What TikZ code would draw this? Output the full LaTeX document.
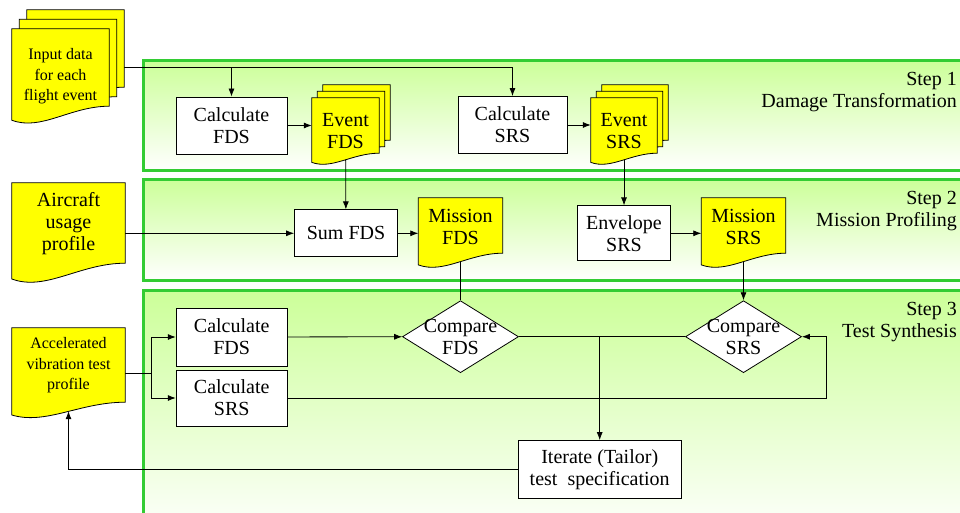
\documentclass[tikz,border=0pt]{standalone}
\usepackage{fontspec}
\setmainfont{Liberation Serif}
\usetikzlibrary{arrows.meta, calc, shapes.geometric}
\pgfdeclarelayer{bands}
\pgfdeclarelayer{links}
\pgfdeclarelayer{sheets}
\pgfsetlayers{bands,links,sheets,main}
\definecolor{bandgreen}{RGB}{204,255,153}
\definecolor{bandedge}{RGB}{51,204,51}
\definecolor{docyellow}{RGB}{255,255,0}

% Document sheet with a wavy bottom, drawn behind a node:
% #1 node, #2/#3 shift right/up, #4 drop of the right end, #5 wave depth
\newcommand\docsheet[5]{%
  \filldraw[sheet] ($(#1.north west)+(#2,-#3)$) -- ($(#1.north east)+(#2,-#3)$)
    -- ($(#1.south east)+(#2,{#4-#3})$)
    .. controls ($(#1.south west)!0.6!(#1.south east)+(#2,{#4-#3})$)
    and ($(#1.south west)!0.3!(#1.south east)+(#2,{#4+1.8*#5-#3})$)
    .. ($(#1.south west)+(#2,{#4+#5-#3})$) -- cycle;}

\begin{document}
\begin{tikzpicture}[x=1pt, y=-1pt,
    every node/.style={font=\fontsize{20}{22}\selectfont},
    small/.style={font=\fontsize{16}{20.5}\selectfont},
    proc/.style={draw, fill=white, line width=0.8pt, align=center, inner sep=0pt},
    docnode/.style={align=center, inner sep=0pt},
    decision/.style={diamond, draw, fill=white, line width=0.8pt, inner sep=0pt,
                     minimum width=116pt, minimum height=72pt},
    sheet/.style={draw, fill=docyellow, line width=0.8pt},
    band/.style={top color=bandgreen, bottom color=white, draw=bandedge, line width=3pt},
    steplabel/.style={anchor=north east, align=right, inner sep=0pt},
    link/.style={line width=0.8pt},
    >={Latex[length=8pt, width=6pt]}]
    \useasboundingbox (0,0) rectangle (960,513);

    % Bands:
    \begin{pgfonlayer}{bands}
    \begin{scope}
        \clip (0,0) rectangle (960,513);
        \shadedraw[band] (143,60.5) rectangle (980,170.5);
        \shadedraw[band] (143,179.5) rectangle (980,280.5);
        \shadedraw[band] (143,290.5) rectangle (980,540);
    \end{scope}
    \end{pgfonlayer}

    \node[steplabel] (step1) at (957,72.5) {Step 1\\Damage Transformation};
    \node[steplabel] (step2) at (957,191.5) {Step 2\\Mission Profiling};
    \node[steplabel] (step3) at (957,302.5) {Step 3\\Test Synthesis};

    % Step 1
    \node[docnode, small, minimum width=97pt, minimum height=95pt] (inp) at (60.5,76.5)
        {Input data\\for each\\flight event};
    \node[proc, minimum width=111pt, minimum height=57pt] (cfds1) at (231.5,125.5) {Calculate\\FDS};
    \node[docnode, minimum width=67pt, minimum height=66pt] (evf) at (345.5,131) {Event\\FDS};
    \node[proc, minimum width=109pt, minimum height=57pt] (csrs1) at (512.5,125) {Calculate\\SRS};
    \node[docnode, minimum width=66pt, minimum height=66pt] (evs) at (624,131) {Event\\SRS};

    % Step 2
    \node[docnode, minimum width=113pt, minimum height=82pt] (air) at (68.5,224)
        {Aircraft\\usage\\profile};
    \node[proc, minimum width=103pt, minimum height=47pt] (sum) at (346,233.3) {Sum FDS};
    \node[docnode, minimum width=84pt, minimum height=58pt] (msf) at (460.5,227) {Mission\\FDS};
    \node[proc, minimum width=93pt, minimum height=55pt] (env) at (624,233.3) {Envelope\\SRS};
    \node[docnode, minimum width=84pt, minimum height=58pt] (mss) at (743.5,227) {Mission\\SRS};

    % Step 3
    \node[docnode, small, minimum width=113pt, minimum height=75pt] (acc) at (68.5,365.5)
        {Accelerated\\vibration test\\profile};
    \node[proc, minimum width=111pt, minimum height=58pt] (cfds3) at (231.7,337) {Calculate\\FDS};
    \node[proc, minimum width=111pt, minimum height=56pt] (csrs3) at (231.7,398) {Calculate\\SRS};
    \node[decision] (cmpf) at (460.5,336.7) {};
    \node[docnode] (cmpflabel) at (cmpf) {Compare\\FDS};
    \node[decision] (cmps) at (743.5,336.7) {};
    \node[docnode] (cmpslabel) at (cmps) {Compare\\SRS};
    \node[proc, minimum width=163pt, minimum height=58pt] (iter) at (599.7,469.5)
        {Iterate (Tailor)\\test~ specification};

    % Sheets behind the yellow nodes
    \begin{pgfonlayer}{sheets}
        \docsheet{inp}{15}{19}{-18}{14}
        \docsheet{inp}{7.5}{9.5}{-18}{14}
        \docsheet{inp}{0}{0}{-18}{14}
        \foreach \n in {evf,evs}{
            \docsheet{\n}{11}{13}{-11}{9.2}
            \docsheet{\n}{5.5}{6.5}{-11}{9.2}
            \docsheet{\n}{0}{0}{-11}{9.2}
        }
        \docsheet{air}{0}{0}{-2}{15.8}
        \docsheet{msf}{0}{0}{-3}{11.7}
        \docsheet{mss}{0}{0}{-3}{11.7}
        \docsheet{acc}{0}{0}{-1}{12.8}
    \end{pgfonlayer}

    % Connectors
    \begin{pgfonlayer}{links}
        \draw[link, ->] ([yshift=9pt]inp.center) -| (cfds1);
        \draw[link, ->] ([yshift=9pt]inp.center) -| (csrs1);
        \draw[link, ->] (cfds1.east) -- (cfds1.east -| evf.west);
        \draw[link, ->] (csrs1.east) -- (csrs1.east -| evs.west);
        \draw[link, ->] (evf.center) -- (sum);
        \draw[link, ->] (evs.center) -- (env);
        \draw[link, ->] (air.center |- sum) -- (sum);
        \draw[link, ->] (sum.east) -- (sum.east -| msf.west);
        \draw[link, ->] (env.east) -- (env.east -| mss.west);
        \draw[link] (msf.center) -- (cmpf);
        \draw[link, ->] (mss.center) -- (cmps);
        \coordinate (fork) at (151,373);
        \draw[link] (acc.east |- fork) -- (fork);
        \draw[link, ->] (fork) |- (cfds3);
        \draw[link, ->] (fork) |- (csrs3);
        \draw[link, ->] (cfds3) -- (cmpf);
        \draw[link] (cmpf) -- (cmps);
        \draw[link, ->] (cmpf.east -| iter) -- (iter);
        \draw[link, ->] (csrs3.east) -| ([xshift=24pt]cmps.east) -- (cmps.east);
        \draw[link, ->] (iter.west) -| ([yshift=-8pt]acc.south);
    \end{pgfonlayer}
\end{tikzpicture}
\end{document}
